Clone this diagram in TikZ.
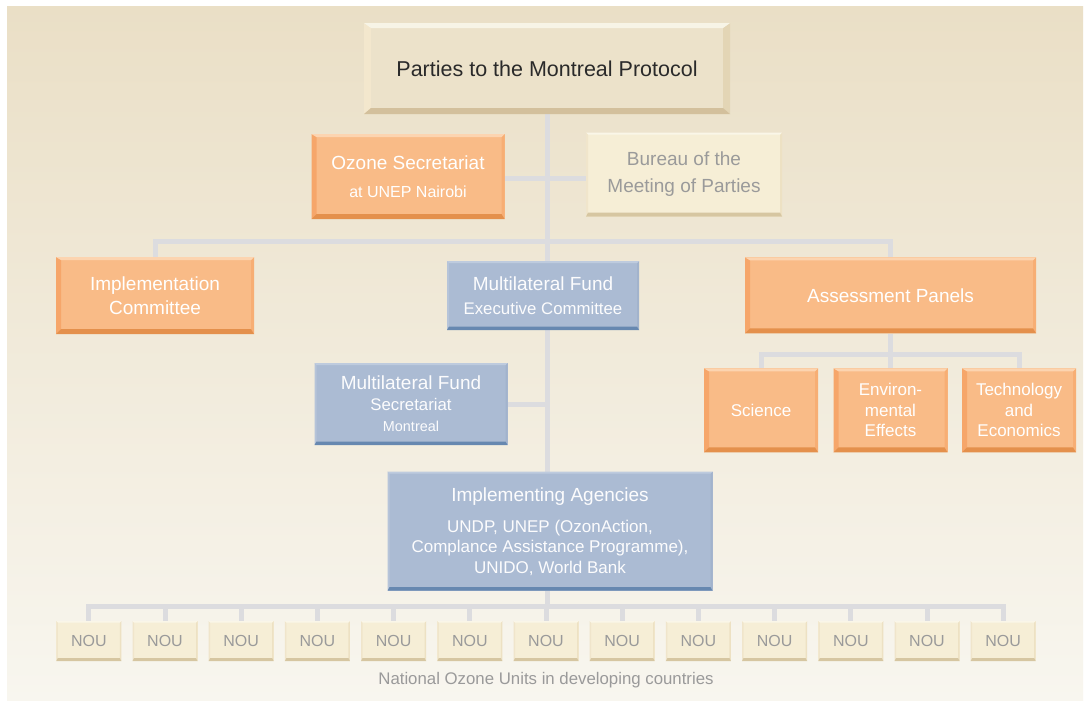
\documentclass[tikz,border=0pt]{standalone}
\usepackage{fontspec}
\setmainfont{Liberation Sans}
\usetikzlibrary{backgrounds,calc}
\definecolor{bgTop}{HTML}{EADFC6}
\definecolor{bgBot}{HTML}{F8F6EF}
\definecolor{conn}{HTML}{DCDCDF}
\definecolor{oFill}{HTML}{F9BB87}
\definecolor{oTop}{HTML}{FCD4B0}
\definecolor{oBot}{HTML}{E4904C}
\definecolor{oLeft}{HTML}{F6A66A}
\definecolor{oRight}{HTML}{F7AE74}
\definecolor{bFill}{HTML}{ABBBD3}
\definecolor{bTop}{HTML}{BECBDE}
\definecolor{bBot}{HTML}{6788B0}
\definecolor{bLeft}{HTML}{B6C4D9}
\definecolor{bRight}{HTML}{A2B3CC}
\definecolor{pFill}{HTML}{ECE2CA}
\definecolor{pTop}{HTML}{F7F4E6}
\definecolor{pBot}{HTML}{D3C09C}
\definecolor{pLeft}{HTML}{F3E7CD}
\definecolor{pRight}{HTML}{E3D5B5}
\definecolor{cFill}{HTML}{F6EED6}
\definecolor{cTop}{HTML}{FAF6E8}
\definecolor{cBot}{HTML}{D6C6A1}
\definecolor{cLeft}{HTML}{F0E5CB}
\definecolor{cRight}{HTML}{EDE1C3}
\definecolor{greyText}{HTML}{9A9A9A}
\definecolor{darkText}{HTML}{2A2A2A}
\newcommand\bevelpic[8]{%
  \coordinate (bvA) at (path picture bounding box.north west);
  \coordinate (bvB) at (path picture bounding box.north east);
  \coordinate (bvC) at (path picture bounding box.south east);
  \coordinate (bvD) at (path picture bounding box.south west);
  \coordinate (bva) at ($(bvA)+(#3,-#1)$);
  \coordinate (bvb) at ($(bvB)+(-#4,-#1)$);
  \coordinate (bvc) at ($(bvC)+(-#4,#2)$);
  \coordinate (bvd) at ($(bvD)+(#3,#2)$);
  \fill[#7] (bvA) -- (bva) -- (bvd) -- (bvD) -- cycle;
  \fill[#8] (bvB) -- (bvb) -- (bvc) -- (bvC) -- cycle;
  \fill[#5] (bvA) -- (bvB) -- (bvb) -- (bva) -- cycle;
  \fill[#6] (bvD) -- (bvC) -- (bvc) -- (bvd) -- cycle;
}
\tikzset{
  box/.style={inner sep=0pt, align=center},
  orangebox/.style={box, fill=oFill, text=white,
    path picture={\bevelpic{3pt}{5pt}{5pt}{3pt}{oTop}{oBot}{oLeft}{oRight}}},
  bluebox/.style={box, fill=bFill, text=white!96!bFill,
    path picture={\bevelpic{2pt}{3.5pt}{2pt}{2pt}{bTop}{bBot}{bLeft}{bRight}}},
  partiesbox/.style={box, fill=pFill, text=darkText,
    path picture={\bevelpic{5pt}{6pt}{7pt}{7pt}{pTop}{pBot}{pLeft}{pRight}}},
  creambox/.style={box, fill=cFill, text=greyText,
    path picture={\bevelpic{2pt}{4pt}{2pt}{2pt}{cTop}{cBot}{cLeft}{cRight}}},
  noubox/.style={creambox, minimum width=65pt, minimum height=40pt,
    font=\fontsize{16}{19}\selectfont,
    path picture={\bevelpic{1.5pt}{3pt}{1.5pt}{1.5pt}{cTop}{cBot}{cLeft}{cRight}}},
  connector/.style={draw=conn, line width=5pt},
}
\begin{document}
\begin{tikzpicture}[x=1pt,y=-1pt]
\useasboundingbox (0,0) rectangle (1088,702);
\begin{scope}[on background layer]
  \fill[white] (0,0) rectangle (1088,702);
  \fill[top color=bgTop, bottom color=bgBot] (7,6) rectangle (1083,700);
\end{scope}

\node[partiesbox, minimum width=366pt, minimum height=91pt,
  font=\fontsize{21.5}{26}\selectfont] (parties) at (547,68.5) {Parties to the Montreal Protocol};

\node[orangebox, minimum width=193pt, minimum height=85pt,
  font=\fontsize{19}{28}\selectfont] (oz) at (408,176.5)
  {Ozone Secretariat\\{\fontsize{16}{19}\selectfont at UNEP Nairobi}};
\node[creambox, minimum width=196pt, minimum height=84pt,
  font=\fontsize{19}{27}\selectfont] (bu) at (684,174.5)
  {Bureau of the\\Meeting of Parties};

\node[orangebox, minimum width=198pt, minimum height=77pt,
  font=\fontsize{19}{23.5}\selectfont] (impl) at (155,295.5)
  {Implementation\\Committee};
\node[bluebox, minimum width=192pt, minimum height=69pt,
  font=\fontsize{19}{24}\selectfont] (mfe) at (543,295.5)
  {Multilateral Fund\\{\fontsize{16.8}{19}\selectfont Executive Committee}};
\node[orangebox, minimum width=291pt, minimum height=76pt,
  font=\fontsize{19}{23}\selectfont] (ap) at (890.5,295.3) {Assessment Panels};

\node[orangebox, minimum width=114pt, minimum height=84pt,
  font=\fontsize{17}{20.5}\selectfont] (sci) at (761,410.3) {Science};
\node[orangebox, minimum width=114pt, minimum height=84pt,
  font=\fontsize{17}{20.5}\selectfont] (env) at (890.5,410.3) {Environ-\\mental\\Effects};
\node[orangebox, minimum width=114pt, minimum height=84pt,
  font=\fontsize{17}{20.5}\selectfont] (tech) at (1019,410.3) {Technology\\and\\Economics};

\node[bluebox, minimum width=193pt, minimum height=82pt,
  font=\fontsize{19}{21}\selectfont] (mfs) at (411,404)
  {Multilateral Fund\\{\fontsize{16.8}{19}\selectfont Secretariat}\\{\fontsize{14.4}{17}\selectfont Montreal}};

\node[bluebox, minimum width=325pt, minimum height=119pt,
  font=\fontsize{17}{20.5}\selectfont] (ia) at (550,531.2)
  {{\fontsize{19}{23}\selectfont Implementing Agencies}\\[10.5pt]UNDP, UNEP (OzonAction,\\Complance Assistance Programme),\\UNIDO, World Bank};

\foreach \i in {1,...,13} {
  \node[noubox] (nou\i) at ({88.8+76.2*(\i-1)},641) {NOU};
}
\node[text=greyText, font=\fontsize{16.8}{20}\selectfont, inner sep=0pt] (cap) at (546,680)
  {National Ozone Units in developing countries};

\coordinate (trunk) at (547,0);
\coordinate (bus1) at (547,241.5);
\coordinate (bus2) at (890.5,354.5);
\coordinate (bus3) at (547,606.5);

\begin{scope}[on background layer]
  \draw[connector] (parties.south) -- (trunk |- ia.north);
  \draw[connector] ([yshift=-2pt]oz.east) -- ([yshift=-2pt]oz.east -| bu.west);
  \draw[connector] (impl.north) |- (bus1) -| (ap.north);
  \draw[connector] (ap.south) -- (env.north);
  \draw[connector] (sci.north) |- (bus2) -| (tech.north);
  \draw[connector] (mfs.east) -- (mfs.east -| trunk);
  \draw[connector] (trunk |- ia.south) -- (bus3);
  \draw[connector] (nou1.north) |- (bus3) -| (nou13.north);
  \foreach \i in {2,...,12} {
    \draw[connector] (nou\i.north) -- (nou\i.north |- bus3);
  }
\end{scope}
\end{tikzpicture}
\end{document}
